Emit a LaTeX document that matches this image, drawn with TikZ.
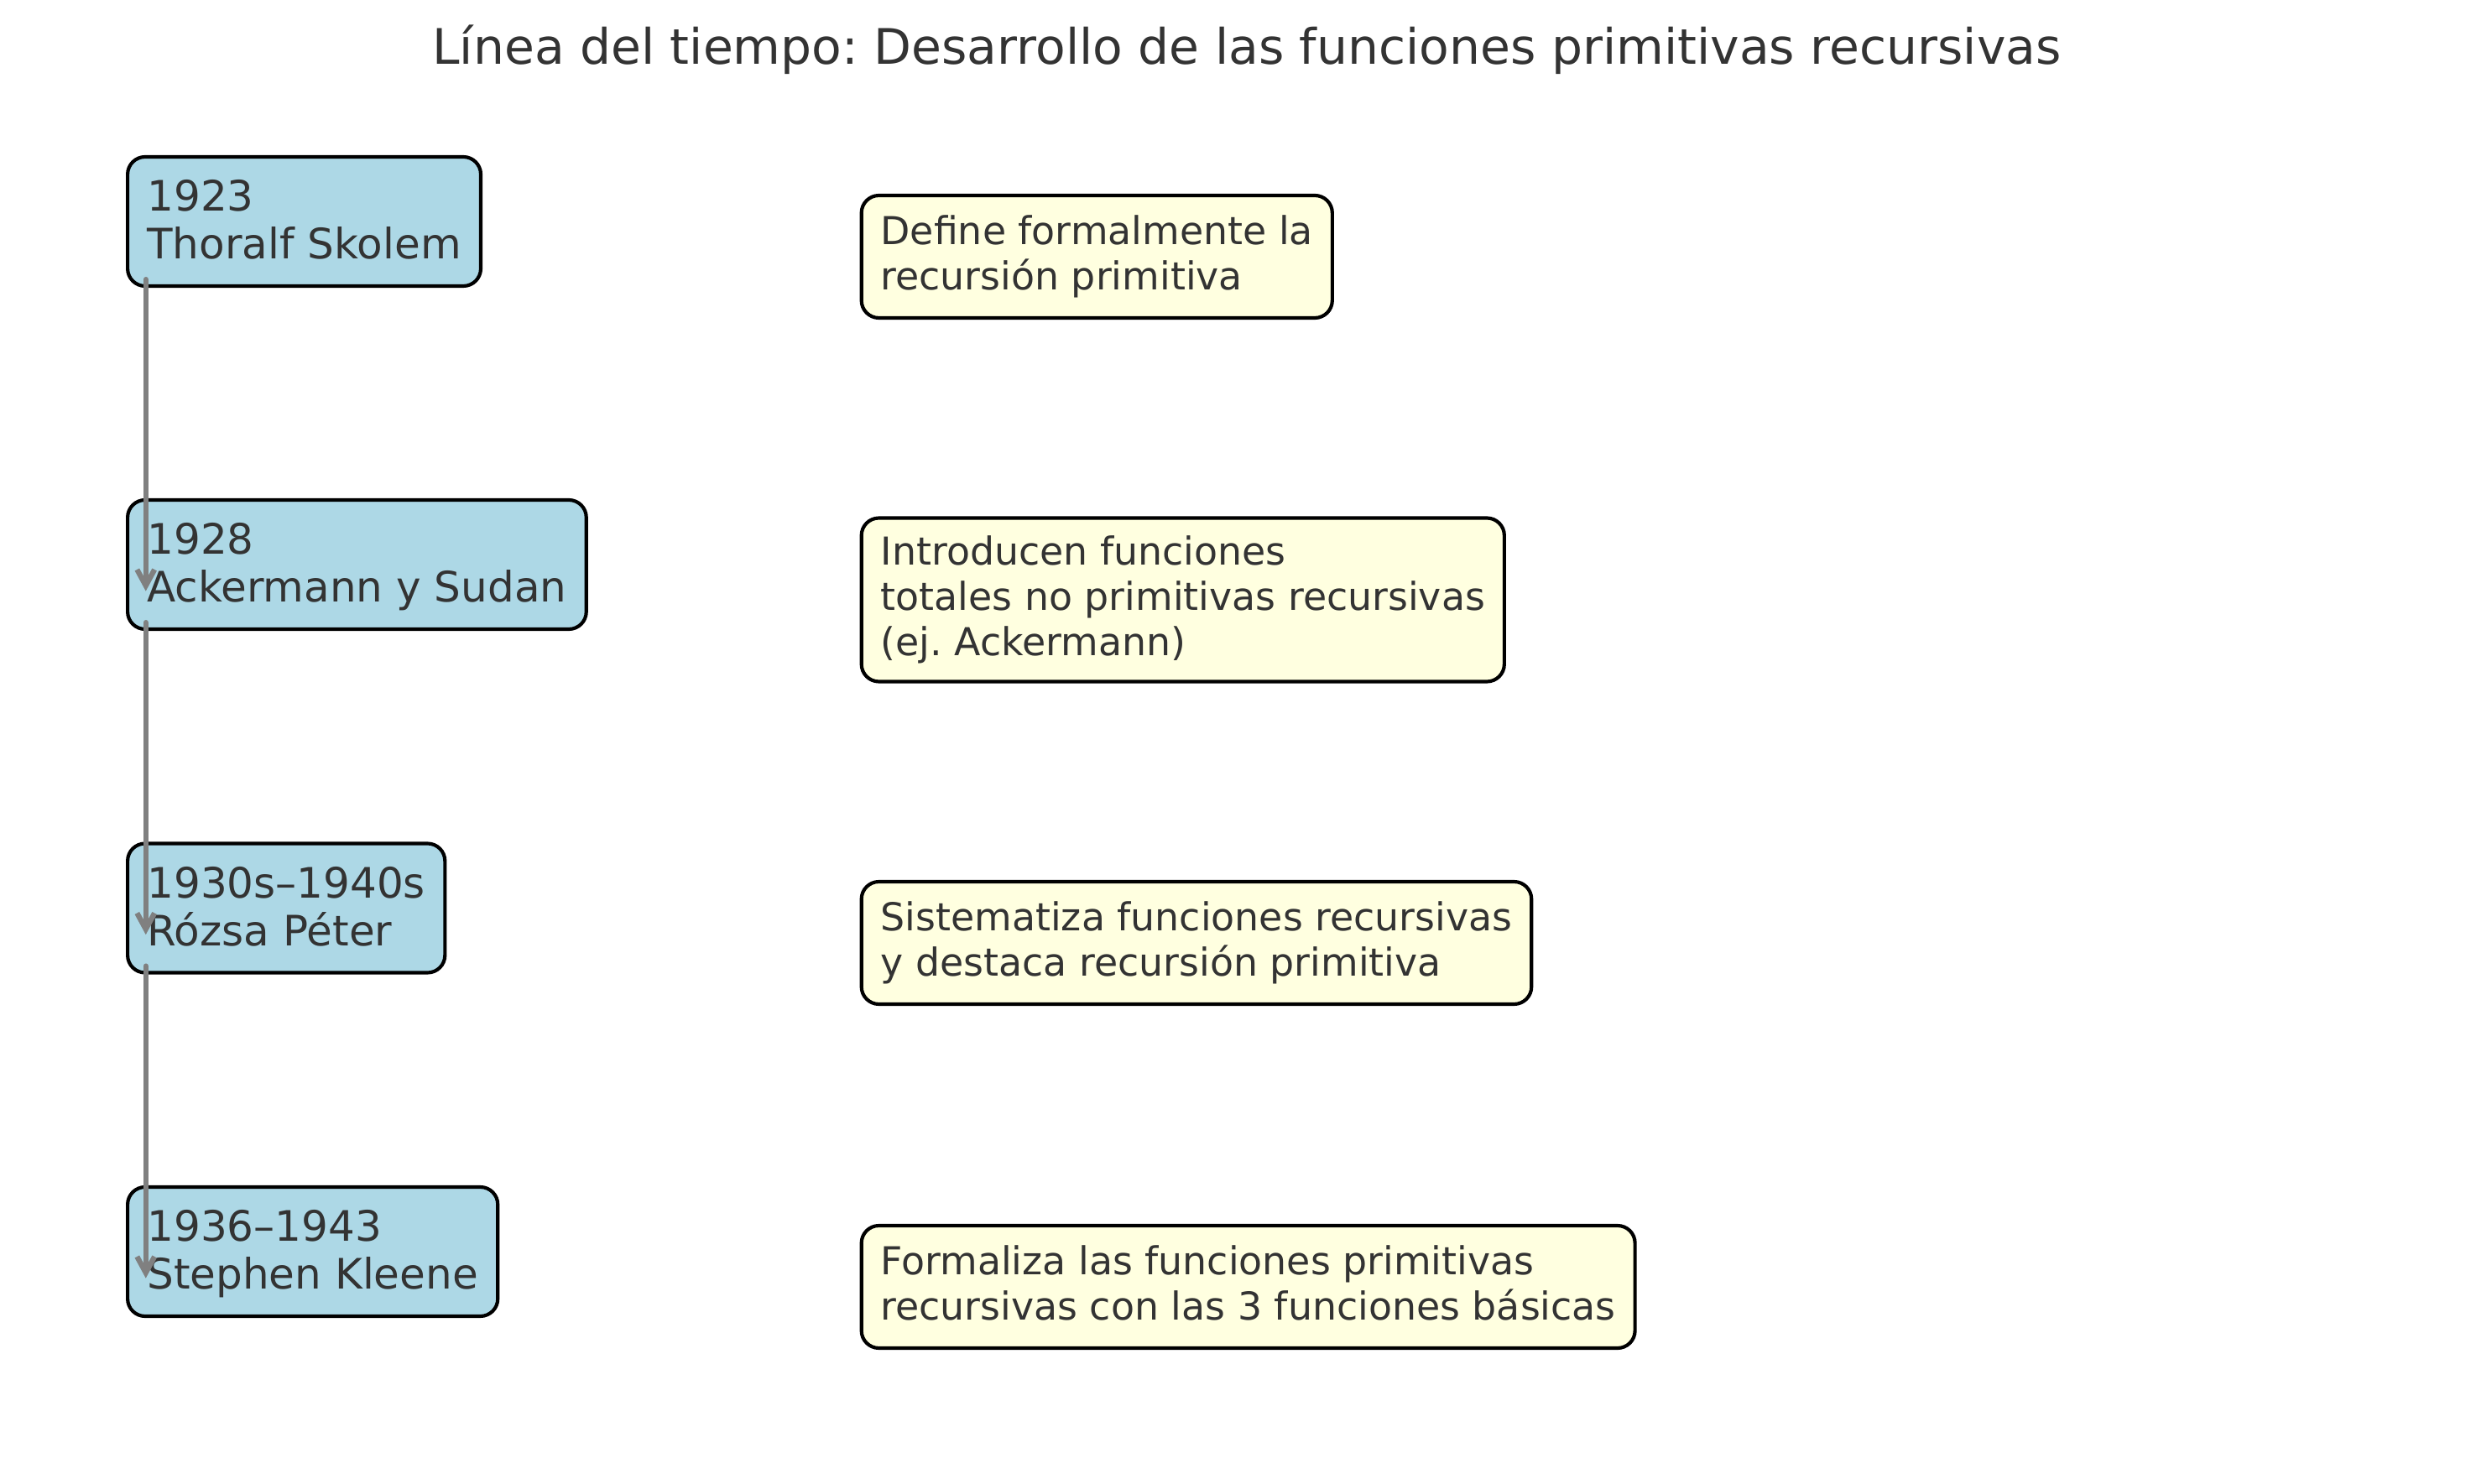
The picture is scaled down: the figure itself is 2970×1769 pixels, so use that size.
\documentclass[tikz,border=0pt]{standalone}
\usepackage{fontspec}
\setmainfont{DejaVu Sans}
\usetikzlibrary{arrows.meta}
\definecolor{txt}{HTML}{333333}
\definecolor{lblue}{HTML}{ADD8E6}
\definecolor{lyellow}{HTML}{FFFFE0}
\definecolor{arrgray}{HTML}{808080}
\newcommand{\bstr}{\rule[-2.8pt]{0pt}{13.4pt}}
\newcommand{\ystr}{\rule[-2.9pt]{0pt}{11.9pt}}
\newcommand{\bl}[1]{\hbox{\bstr #1}}
\newcommand{\yl}[1]{\hbox{\ystr #1}}
\frenchspacing
\begin{document}
\begin{tikzpicture}[x=0.24pt,y=-0.24pt,
  yearbox/.style={draw=black, line width=1pt, fill=lblue, rounded corners=5pt,
    anchor=west, inner xsep=5.6pt, inner ysep=0pt, minimum height=36.96pt,
    text=txt, font=\fontsize{12}{14.4}\selectfont},
  descbox/.style={draw=black, line width=1pt, fill=lyellow, rounded corners=5pt,
    anchor=west, inner xsep=5.5pt, inner ysep=0pt, minimum height=35.04pt,
    text=txt, font=\fontsize{11}{13.2}\selectfont},
  arr/.style={draw=arrgray, line width=1.5pt, line cap=round,
    -{Straight Barb[length=4.6pt,width=5pt]}},
  titletext/.style={text=txt, font=\fontsize{14}{16.8}\selectfont, anchor=base, inner sep=0pt}]
\fill[white] (0,0) rectangle (2970,1769);
\useasboundingbox (0,0) rectangle (2970,1769);

\node[titletext] (title) at (1486,77) {Línea del tiempo: Desarrollo de las funciones primitivas recursivas};

\node[yearbox] (b1) at (150,264) {\vbox{\baselineskip=13.6pt\bl{1923}\bl{Thoralf Skolem}}};
\node[yearbox] (b2) at (150,673) {\vbox{\baselineskip=13.6pt\bl{1928}\bl{Ackermann y Sudan}}};
\node[yearbox] (b3) at (150,1082.5) {\vbox{\baselineskip=13.6pt\bl{1930s–1940s}\bl{Rózsa Péter}}};
\node[yearbox] (b4) at (150,1492) {\vbox{\baselineskip=13.6pt\bl{1936–1943}\bl{Stephen Kleene}}};

\node[descbox] (d1) at (1024.6,306) {\vbox{\baselineskip=12.9pt\yl{Define formalmente la}\yl{recursión primitiva}}};
\node[descbox, minimum height=46.8pt] (d2) at (1024.6,715) {\vbox{\baselineskip=12.9pt\yl{Introducen funciones}\yl{totales no primitivas recursivas}\yl{(ej. Ackermann)}}};
\node[descbox] (d3) at (1024.6,1124) {\vbox{\baselineskip=12.9pt\yl{Sistematiza funciones recursivas}\yl{y destaca recursión primitiva}}};
\node[descbox] (d4) at (1024.6,1534) {\vbox{\baselineskip=12.9pt\yl{Formaliza las funciones primitivas}\yl{recursivas con las 3 funciones básicas}}};

\draw[arr] ([xshift=5.7pt,yshift=2.4pt]b1.south west) -- ([xshift=5.7pt,yshift=-7.6pt]b2.west);
\draw[arr] ([xshift=5.7pt,yshift=2.4pt]b2.south west) -- ([xshift=5.7pt,yshift=-7.6pt]b3.west);
\draw[arr] ([xshift=5.7pt,yshift=2.4pt]b3.south west) -- ([xshift=5.7pt,yshift=-7.6pt]b4.west);
\end{tikzpicture}
\end{document}
